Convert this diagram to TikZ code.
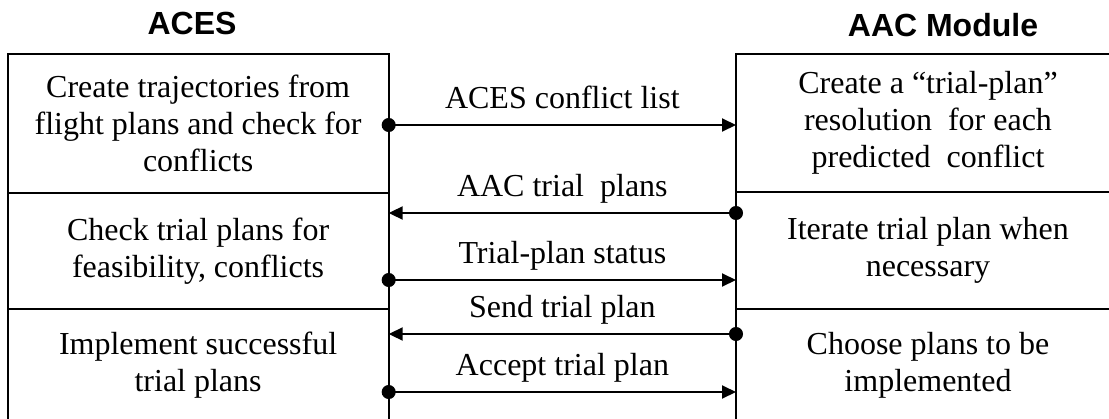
\documentclass[tikz,border=0pt]{standalone}
\usepackage{fontspec}
\setmainfont{Liberation Serif}
\newfontfamily\headfont{Liberation Sans}
\usetikzlibrary{arrows.meta}

\begin{document}
\begin{tikzpicture}[x=0.5pt, y=-0.5pt,
		every text node part/.style={align=center},
		cell/.style={rectangle, draw, line width=1pt, outer sep=0pt, inner sep=0pt, font=\fontsize{16}{18.4}\selectfont},
		acescell/.style={cell, minimum width=190.6pt},
		aaccell/.style={cell, minimum width=192pt},
		head/.style={inner sep=0pt, anchor=base, font=\headfont\bfseries\fontsize{16}{19}\selectfont},
		msg/.style={{Circle[length=7pt]}-{Triangle[length=7pt, width=6.5pt]}, line width=1pt, shorten <=-3.5pt},
		lbl/.style={above=8pt, inner sep=0pt, text depth=0pt, font=\fontsize{16}{18}\selectfont}]
		
		\useasboundingbox (0,0) rectangle (1109,418);
		
		\node[head] (acestitle) at (192,34) {ACES};
		\node[head] (aactitle) at (943,36) {AAC Module};
		
		% ACES side
		\node[acescell, minimum height=69.5pt] (aces1) at (198.1,123.5) {Create trajectories from\\flight plans and check for\\conflicts};
		\node[acescell, minimum height=58pt] (aces2) at (198.1,251) {Check trial plans for\\feasibility, conflicts};
		\node[acescell, minimum height=56.5pt] (aces3) at (198.1,365.5) {Implement successful\\trial plans};
		
		% AAC side
		\node[aaccell, minimum height=68.75pt] (aac1) at (928,122.75) {Create a “trial-plan”\\resolution\ \ for each\\predicted\ \ conflict};
		\node[aaccell, minimum height=58.75pt] (aac2) at (928,250.25) {Iterate trial plan when\\necessary};
		\node[aaccell, minimum height=56.5pt] (aac3) at (928,365.5) {Choose plans to be\\implemented};
		
		\draw (aces1.east |- 0,125) edge[msg] node[lbl] {ACES conflict list} (aac1.west |- 0,125);
		\draw (aac2.west |- 0,213) edge[msg] node[lbl] {AAC trial\ \ plans} (aces2.east |- 0,213);
		\draw (aces2.east |- 0,280) edge[msg] node[lbl] {Trial-plan status} (aac2.west |- 0,280);
		\draw (aac3.west |- 0,334) edge[msg] node[lbl] {Send trial plan} (aces3.east |- 0,334);
		\draw (aces3.east |- 0,392) edge[msg] node[lbl] {Accept trial plan} (aac3.west |- 0,392);
		
	\end{tikzpicture}
\end{document}
